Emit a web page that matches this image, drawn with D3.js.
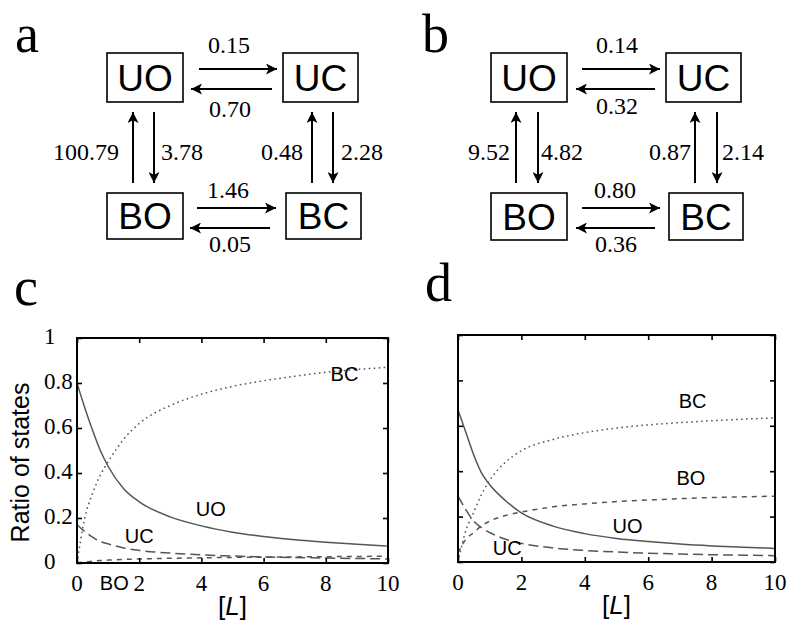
<!DOCTYPE html>
<html>
<head>
<meta charset="utf-8">
<script src="https://cdn.jsdelivr.net/npm/d3@7"></script>
</head>
<body style="margin:0">
<div id="chart"></div>
<script>
// ---- data ----
const states = ["UO", "UC", "BO", "BC"];

// rate constants, scheme a and b
// order: UO->UC, UC->UO, BO->UO, UO->BO, BC->UC, UC->BC, BO->BC, BC->BO
const ratesA = ["0.15", "0.70", "100.79", "3.78", "0.48", "2.28", "1.46", "0.05"];
const ratesB = ["0.14", "0.32", "9.52", "4.82", "0.87", "2.14", "0.80", "0.36"];

const ligand = [0, 0.25, 0.5, 0.75, 1, 1.5, 2, 3, 4, 5, 6, 7, 8, 9, 10];

// panel c
const uoC = [0.80, 0.69, 0.59, 0.50, 0.43, 0.33, 0.272, 0.205, 0.165, 0.137, 0.118, 0.103, 0.092, 0.083, 0.075];
const ucC = [0.17, 0.14, 0.115, 0.095, 0.085, 0.067, 0.056, 0.044, 0.036, 0.031, 0.027, 0.024, 0.022, 0.020, 0.018];
const boC = [0.0, 0.005, 0.008, 0.011, 0.013, 0.016, 0.018, 0.021, 0.023, 0.025, 0.026, 0.027, 0.028, 0.029, 0.030];
const bcC = [0.0, 0.20, 0.31, 0.39, 0.45, 0.55, 0.62, 0.70, 0.75, 0.785, 0.81, 0.83, 0.848, 0.86, 0.87];

// panel d
const uoD = [0.67, 0.57, 0.47, 0.39, 0.34, 0.27, 0.216, 0.158, 0.125, 0.104, 0.09, 0.079, 0.071, 0.065, 0.06];
const ucD = [0.29, 0.23, 0.18, 0.15, 0.13, 0.10, 0.082, 0.062, 0.051, 0.044, 0.039, 0.035, 0.032, 0.030, 0.028];
const boD = [0.04, 0.10, 0.13, 0.16, 0.18, 0.205, 0.22, 0.243, 0.256, 0.266, 0.273, 0.279, 0.284, 0.287, 0.29];
const bcD = [0.0, 0.14, 0.22, 0.30, 0.36, 0.44, 0.49, 0.54, 0.57, 0.59, 0.604, 0.614, 0.622, 0.629, 0.635];

const xTicks = [0, 2, 4, 6, 8, 10];
const yTicks = [0, 0.2, 0.4, 0.6, 0.8, 1];
const yTickLabels = ["0", "0.2", "0.4", "0.6", "0.8", "1"];

// ---- drawing ----
const width = 790, height = 621;

const svg = d3.select("#chart")
    .append("svg")
    .attr("width", width)
    .attr("height", height);

svg.append("defs").append("marker")
    .attr("id", "head")
    .attr("viewBox", "0 0 10 10")
    .attr("refX", 10)
    .attr("refY", 5)
    .attr("markerUnits", "userSpaceOnUse")
    .attr("markerWidth", 13)
    .attr("markerHeight", 11)
    .attr("orient", "auto")
    .append("path")
    .attr("d", "M0,0 L10,5 L0,10 L2.5,5 Z")
    .attr("fill", "#000");

function serifText(sel) {
    return sel.append("text").attr("font-family", "Liberation Serif");
}
function sansText(sel) {
    return sel.append("text").attr("font-family", "Liberation Sans");
}

function panelLetter(x, y, t) {
    serifText(svg)
        .attr("x", x).attr("y", y)
        .attr("font-size", 54)
        .text(t);
}

// reaction scheme
function scheme(cfg, rates) {
    const g = svg.append("g");
    const boxes = [cfg.uo, cfg.uc, cfg.bo, cfg.bc];
    boxes.forEach((b, i) => {
        g.append("rect")
            .attr("x", b[0]).attr("y", b[1])
            .attr("width", b[2]).attr("height", b[3])
            .attr("fill", "none")
            .attr("stroke", "#000")
            .attr("stroke-width", 1.6);
        sansText(g)
            .attr("x", b[0] + b[2] / 2)
            .attr("y", b[1] + b[3] / 2 + 13)
            .attr("text-anchor", "middle")
            .attr("font-size", 37)
            .text(states[i]);
    });

    cfg.arrows.forEach(a => {
        g.append("line")
            .attr("x1", a[0]).attr("y1", a[1])
            .attr("x2", a[2]).attr("y2", a[3])
            .attr("stroke", "#000")
            .attr("stroke-width", 2)
            .attr("marker-end", "url(#head)");
    });

    cfg.labels.forEach((l, i) => {
        serifText(g)
            .attr("x", l[0]).attr("y", l[1])
            .attr("text-anchor", l[2])
            .attr("font-size", 24)
            .text(rates[i]);
    });
}

scheme({
    uo: [107, 53, 76, 49], uc: [283, 53, 75, 49],
    bo: [107, 193, 76, 46], bc: [286, 193, 75, 46],
    arrows: [
        [199, 69, 277, 69], [272, 89, 191, 89],
        [133, 183, 133, 112], [154, 112, 154, 183],
        [312, 183, 312, 112], [333, 112, 333, 183],
        [197, 208, 276, 208], [270, 228, 190, 228]
    ],
    labels: [
        [229, 53, "middle"], [230, 117, "middle"],
        [119, 160, "end"], [161, 160, "start"],
        [303, 160, "end"], [341, 160, "start"],
        [228, 198, "middle"], [230, 252, "middle"]
    ]
}, ratesA);

scheme({
    uo: [491, 53, 76, 49], uc: [666, 53, 75, 49],
    bo: [491, 193, 76, 47], bc: [669, 193, 74, 47],
    arrows: [
        [582, 69, 660, 69], [655, 89, 576, 89],
        [516, 183, 516, 112], [538, 112, 538, 183],
        [695, 183, 695, 112], [717, 112, 717, 183],
        [582, 208, 660, 208], [655, 228, 576, 228]
    ],
    labels: [
        [617, 53, "middle"], [617, 114, "middle"],
        [510, 160, "end"], [541, 160, "start"],
        [691, 160, "end"], [722, 160, "start"],
        [615, 198, "middle"], [616, 252, "middle"]
    ]
}, ratesB);

panelLetter(15, 52, "a");
panelLetter(422, 52, "b");
panelLetter(14, 305, "c");
panelLetter(425, 301, "d");

// line plots
const styles = {
    UO: null,
    UC: "10,5",
    BO: "5,5",
    BC: "1.6,3.4"
};

function plot(box, series, labels, showY) {
    const x = d3.scaleLinear().domain([0, 10]).range([box.left, box.right]);
    const y = d3.scaleLinear().domain([0, 1]).range([box.bottom, box.top]);
    const g = svg.append("g");

    const line = d3.line()
        .x((d, i) => x(ligand[i]))
        .y(d => y(d))
        .curve(d3.curveMonotoneX);

    series.forEach(s => {
        g.append("path")
            .datum(s.values)
            .attr("d", line)
            .attr("fill", "none")
            .attr("stroke", "#555")
            .attr("stroke-width", 1.5)
            .attr("stroke-dasharray", styles[s.name]);
    });

    // inward ticks on all four sides
    const tl = 5;
    const axes = g.append("g");
    axes.append("g")
        .attr("transform", `translate(0,${box.bottom})`)
        .call(d3.axisBottom(x).tickValues(xTicks).tickSize(-tl).tickFormat(""));
    axes.append("g")
        .attr("transform", `translate(0,${box.top})`)
        .call(d3.axisTop(x).tickValues(xTicks).tickSize(-tl).tickFormat(""));
    axes.append("g")
        .attr("transform", `translate(${box.left},0)`)
        .call(d3.axisLeft(y).tickValues(yTicks).tickSize(-tl).tickFormat(""));
    axes.append("g")
        .attr("transform", `translate(${box.right},0)`)
        .call(d3.axisRight(y).tickValues(yTicks).tickSize(-tl).tickFormat(""));
    axes.selectAll(".domain").remove();
    axes.selectAll(".tick text").remove();
    axes.selectAll(".tick line").attr("stroke", "#000").attr("stroke-width", 1.6);

    g.append("rect")
        .attr("x", box.left).attr("y", box.top)
        .attr("width", box.right - box.left)
        .attr("height", box.bottom - box.top)
        .attr("fill", "none")
        .attr("stroke", "#000")
        .attr("stroke-width", 2);

    xTicks.forEach(d => {
        serifText(g)
            .attr("x", x(d))
            .attr("y", box.bottom + 28)
            .attr("text-anchor", "middle")
            .attr("font-size", 23)
            .text(d);
    });

    if (showY) {
        yTicks.forEach((d, i) => {
            serifText(g)
                .attr("x", 44)
                .attr("y", y(d) + 6)
                .attr("font-size", 23)
                .text(yTickLabels[i]);
        });

        sansText(g)
            .attr("transform", `translate(29,${(box.top + box.bottom) / 2 + 12}) rotate(-90)`)
            .attr("text-anchor", "middle")
            .attr("font-size", 25)
            .text("Ratio of states");
    }

    const xl = sansText(g)
        .attr("x", (box.left + box.right) / 2)
        .attr("y", box.bottom + 52)
        .attr("text-anchor", "middle")
        .attr("font-size", 26);
    xl.append("tspan").text("[");
    xl.append("tspan").attr("font-style", "italic").text("L");
    xl.append("tspan").text("]");

    labels.forEach(l => {
        sansText(g)
            .attr("x", x(l.x))
            .attr("y", y(l.y) + 7)
            .attr("text-anchor", "middle")
            .attr("font-size", 20)
            .text(l.name);
    });
}

plot({left: 77, right: 388, top: 338, bottom: 563}, [
    {name: "UO", values: uoC},
    {name: "UC", values: ucC},
    {name: "BO", values: boC},
    {name: "BC", values: bcC}
], [
    {name: "BC", x: 8.6, y: 0.842},
    {name: "UO", x: 4.3, y: 0.24},
    {name: "UC", x: 2.0, y: 0.12},
    {name: "BO", x: 1.2, y: -0.09}
], true);

plot({left: 458, right: 775, top: 335, bottom: 562}, [
    {name: "UO", values: uoD},
    {name: "UC", values: ucD},
    {name: "BO", values: boD},
    {name: "BC", values: bcD}
], [
    {name: "BC", x: 7.4, y: 0.71},
    {name: "BO", x: 7.35, y: 0.37},
    {name: "UO", x: 5.35, y: 0.16},
    {name: "UC", x: 1.55, y: 0.06}
], false);
</script>
</body>
</html>
